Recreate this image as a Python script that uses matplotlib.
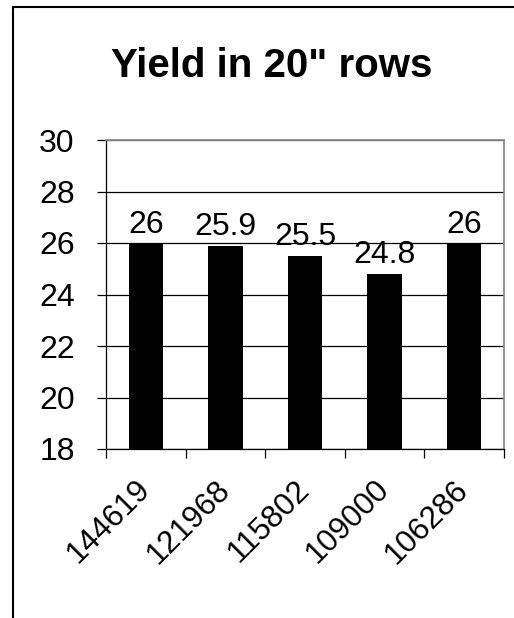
import matplotlib
matplotlib.use("Agg")
import matplotlib.pyplot as plt
from matplotlib.patches import Rectangle

plt.rcParams['font.family'] = ['Liberation Sans', 'DejaVu Sans']

categories = ["144619", "121968", "115802", "109000", "106286"]
yields = [26, 25.9, 25.5, 24.8, 26]
y_ticks = [18, 20, 22, 24, 26, 28, 30]

W, H = 514, 618
fig = plt.figure(figsize=(W / 100, H / 100), dpi=100)

# chart-area frame (left and top edges visible)
fig.add_artist(Rectangle((12.5 / W, -0.05), 1.2, (H - 7) / H + 0.05,
                         transform=fig.transFigure, fill=False,
                         edgecolor='black', linewidth=1.5))

ax = fig.add_axes([106 / W, 1 - 449 / H, (504 - 106) / W, (449 - 140) / H])

x = list(range(len(categories)))
ax.bar(x, yields, width=0.43, color='black', zorder=3)
ax.set_xlim(-0.5, len(categories) - 0.5)
ax.set_ylim(18, 30)

for xi, v in zip(x, yields):
    ax.annotate(f"{v:g}", (xi, v), xytext=(0, 7.5), textcoords='offset points',
                ha='center', va='baseline', fontsize=23, zorder=4)

ax.set_yticks(y_ticks)
ax.set_yticklabels([str(t) for t in y_ticks], fontsize=23)
ax.yaxis.grid(True, color='black', linewidth=0.9, zorder=1)
ax.set_axisbelow(True)

# category ticks at boundaries, labels at centers
ax.set_xticks([i - 0.5 for i in range(len(categories) + 1)])
ax.set_xticklabels([])
ax.set_xticks(x, minor=True)
ax.set_xticklabels(categories, minor=True, rotation=45, ha='right',
                   va='center', rotation_mode='anchor', fontsize=22.5)
ax.tick_params(axis='x', which='minor', length=0, pad=26)
ax.tick_params(axis='x', which='major', length=6.5, width=0.9, direction='out', color='black')
ax.tick_params(axis='y', length=6.5, width=0.9, direction='out', pad=16, color='black')

for side in ['top', 'right']:
    ax.spines[side].set_color('#8c8c8c')
    ax.spines[side].set_linewidth(1.3)
for side in ['left', 'bottom']:
    ax.spines[side].set_color('black')
    ax.spines[side].set_linewidth(0.9)

fig.text(272 / W, 1 - 77 / H, 'Yield in 20" rows', ha='center', va='baseline',
         fontsize=29, fontweight='bold')

fig.savefig("out.png", dpi=100)
